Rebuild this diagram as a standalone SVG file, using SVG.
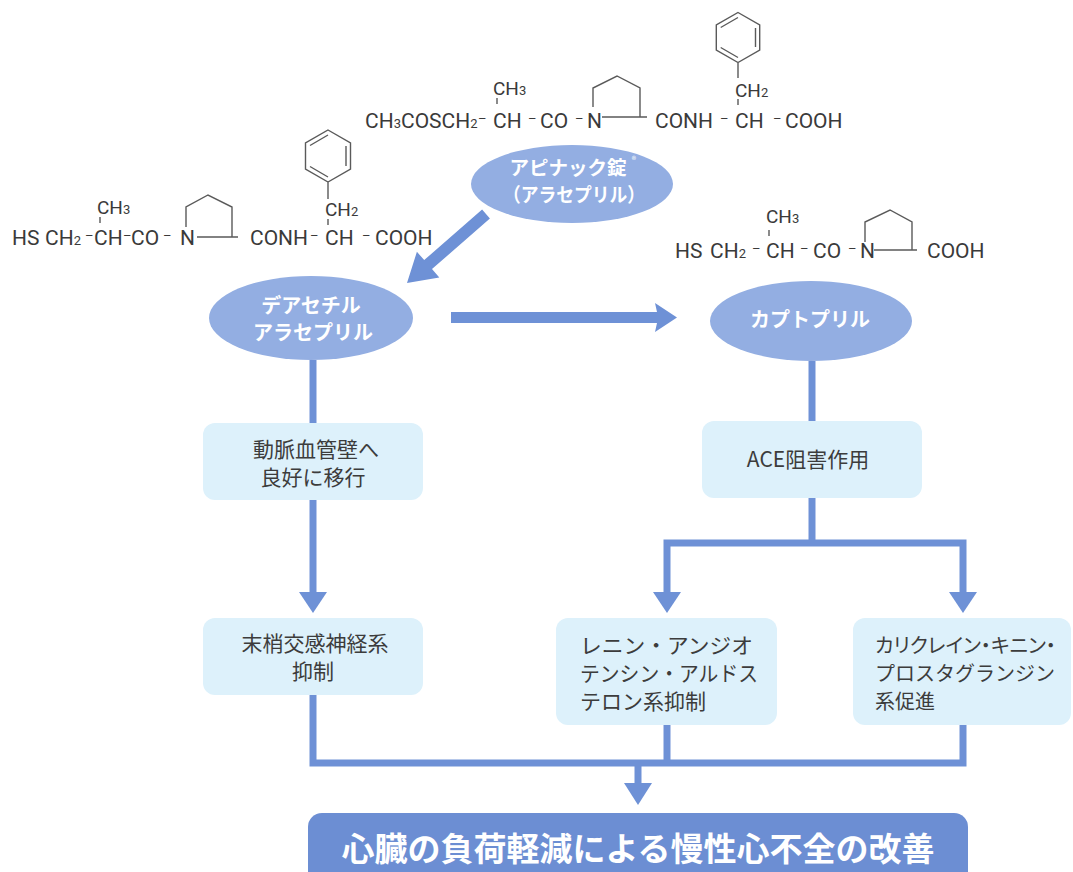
<svg xmlns="http://www.w3.org/2000/svg" width="1073" height="872" viewBox="0 0 1073 872">
<style>
.chem{font-family:Roboto,"Noto Sans","Liberation Sans",sans-serif;font-size:21px;fill:#3a3a3a}
.sub{font-size:13px}
.sm{font-size:19px}
.dash{font-family:Roboto,"Noto Sans","Liberation Sans",sans-serif;font-size:13px;fill:#3a3a3a}
.bond{fill:none;stroke:#5a5a5a;stroke-width:1.4}
.ell{fill:#93aee2}
.et{font-family:"Noto Sans CJK JP","Noto Sans",sans-serif;font-weight:bold;font-size:20px;fill:#ffffff;text-anchor:middle}
.box{fill:#ddf1fb}
.bt{font-family:"Noto Sans CJK JP","Noto Sans",sans-serif;font-size:21px;fill:#3c3c3c}
.mid{text-anchor:middle}
.ln{fill:none;stroke:#6e91d6;stroke-width:7;stroke-linejoin:miter}
.ah{fill:#6e91d6}
</style>
<rect width="1073" height="872" fill="#ffffff"/>

<g id="struct-alacepril">
<text class="chem" x="365" y="128">CH<tspan class="sub">3</tspan>COSCH<tspan class="sub">2</tspan></text>
<text class="dash" x="478" y="123">–</text>
<text class="chem" x="493" y="128">CH</text>
<text class="dash" x="528" y="123">–</text>
<text class="chem" x="540" y="128">CO</text>
<text class="dash" x="575" y="123">–</text>
<text class="chem" x="587" y="128">N</text>
<text class="chem" x="655" y="128">CONH</text>
<text class="dash" x="720" y="123">–</text>
<text class="chem" x="735" y="128">CH</text>
<text class="dash" x="773" y="123">–</text>
<text class="chem" x="785" y="128">COOH</text>
<text class="chem sm" x="493" y="95">CH<tspan class="sub">3</tspan></text>
<text class="chem sm" x="735" y="97">CH<tspan class="sub">2</tspan></text>
<path class="bond" d="M497,98 V104 M738,99 V105 M593,107 V88 L617,76 L640,88 V117 M602,117 H647"/>
<path class="bond" d="M738,12.5 L759.7,25 V50 L738,62.5 L716.3,50 V25 Z M738,62.5 V78 M755.5,28 V47 M738,57.5 L720.7,47.5 M720.7,27.5 L738,17.5"/>
</g>

<g id="struct-desacetyl">
<text class="chem" x="12" y="245">HS</text>
<text class="chem" x="45" y="245">CH<tspan class="sub">2</tspan></text>
<text class="dash" x="85" y="240">–</text>
<text class="chem" x="94" y="245">CH</text>
<text class="dash" x="123" y="240">–</text>
<text class="chem" x="131" y="245">CO</text>
<text class="dash" x="163" y="240">–</text>
<text class="chem" x="180" y="245">N</text>
<text class="chem" x="250" y="245">CONH</text>
<text class="dash" x="310" y="240">–</text>
<text class="chem" x="325" y="245">CH</text>
<text class="dash" x="362" y="240">–</text>
<text class="chem" x="375" y="245">COOH</text>
<text class="chem sm" x="97" y="214">CH<tspan class="sub">3</tspan></text>
<text class="chem sm" x="325" y="216">CH<tspan class="sub">2</tspan></text>
<path class="bond" d="M100,217 V223 M328,219 V225 M186,227 V207 L208,195 L232,207 V237 M197,237 H238"/>
<path class="bond" d="M328,130 L350.5,143 V169 L328,182 L305.5,169 V143 Z M328,182 V199 M346,146 V166 M328,177 L310,166.5 M310,145.5 L328,135"/>
</g>

<g id="struct-captopril">
<text class="chem" x="675" y="258">HS</text>
<text class="chem" x="710" y="258">CH<tspan class="sub">2</tspan></text>
<text class="dash" x="752" y="253">–</text>
<text class="chem" x="766" y="258">CH</text>
<text class="dash" x="800" y="253">–</text>
<text class="chem" x="813" y="258">CO</text>
<text class="dash" x="848" y="253">–</text>
<text class="chem" x="860" y="258">N</text>
<text class="chem" x="927" y="258">COOH</text>
<text class="chem sm" x="766" y="223">CH<tspan class="sub">3</tspan></text>
<path class="bond" d="M769,230 V236 M865,242 V222 L890,210 L912,222 V250 M874,250 H917"/>
</g>

<g id="connectors">
<polygon class="ah" points="489.9,218.5 482.1,209.5 424.2,260.1 416.9,251.8 407,283 439.3,277.4 432,269.1"/>
<polygon class="ah" points="451,312 657,312 655,303 677,317.5 655,332 657,323 451,323"/>
<path class="ln" d="M313,360 V423"/>
<path class="ln" d="M313,500 V594"/>
<polygon class="ah" points="299,592 327,592 313,613"/>
<path class="ln" d="M313,695 V763 H963 V725"/>
<path class="ln" d="M667,725 V763"/>
<path class="ln" d="M638,763 V785"/>
<polygon class="ah" points="624,783 652,783 638,805"/>
<path class="ln" d="M812,361 V421"/>
<path class="ln" d="M812,498 V543"/>
<path class="ln" d="M667,594 V543 H963 V594"/>
<polygon class="ah" points="653,592 681,592 667,613"/>
<polygon class="ah" points="949,592 977,592 963,613"/>
</g>

<g id="node-apinac">
<ellipse class="ell" cx="572" cy="184" rx="101" ry="39"/>
<text class="et" x="568" y="174.5" style="font-size:19.5px">アピナック錠</text>
<text class="et" x="634" y="163" style="font-size:9px;font-weight:normal">®</text>
<text class="et" x="574" y="202" style="font-size:19.5px" textLength="142" lengthAdjust="spacingAndGlyphs">（アラセプリル）</text>
</g>

<g id="node-desacetyl">
<ellipse class="ell" cx="311" cy="318" rx="102" ry="42"/>
<text class="et" x="311" y="313">デアセチル</text>
<text class="et" x="313" y="340">アラセプリル</text>
</g>

<g id="node-captopril">
<ellipse class="ell" cx="811" cy="321" rx="101" ry="40"/>
<text class="et" x="810" y="327">カプトプリル</text>
</g>

<g id="node-arterial">
<rect class="box" x="203" y="423" width="220" height="77" rx="12"/>
<text class="bt mid" x="316" y="457">動脈血管壁へ</text>
<text class="bt mid" x="313" y="485">良好に移行</text>
</g>

<g id="node-sympathetic">
<rect class="box" x="203" y="618" width="220" height="77" rx="12"/>
<text class="bt mid" x="315" y="651">末梢交感神経系</text>
<text class="bt mid" x="313" y="679">抑制</text>
</g>

<g id="node-ace">
<rect class="box" x="702" y="421" width="220" height="77" rx="12"/>
<text class="bt mid" x="808" y="467">ACE阻害作用</text>
</g>

<g id="node-raas">
<rect class="box" x="556" y="618" width="221" height="107" rx="12"/>
<text class="bt" x="580" y="653" textLength="173" lengthAdjust="spacingAndGlyphs">レニン・アンジオ</text>
<text class="bt" x="580" y="681" textLength="178" lengthAdjust="spacingAndGlyphs">テンシン・アルドス</text>
<text class="bt" x="580" y="709">テロン系抑制</text>
</g>

<g id="node-kinin">
<rect class="box" x="853" y="618" width="218" height="107" rx="12"/>
<text class="bt" x="875" y="653" style="font-size:20px;font-feature-settings:'palt'">カリクレイン・キニン・</text>
<text class="bt" x="875" y="681" style="font-size:20px">プロスタグランジン</text>
<text class="bt" x="875" y="709" style="font-size:20px">系促進</text>
</g>

<g id="node-result">
<rect x="308" y="813" width="660" height="80" rx="14" fill="#6c8ed3"/>
<text x="638" y="861" text-anchor="middle" style="font-family:'Noto Sans CJK JP','Noto Sans',sans-serif;font-weight:bold;font-size:33px;fill:#ffffff">心臓の負荷軽減による慢性心不全の改善</text>
</g>
</svg>
